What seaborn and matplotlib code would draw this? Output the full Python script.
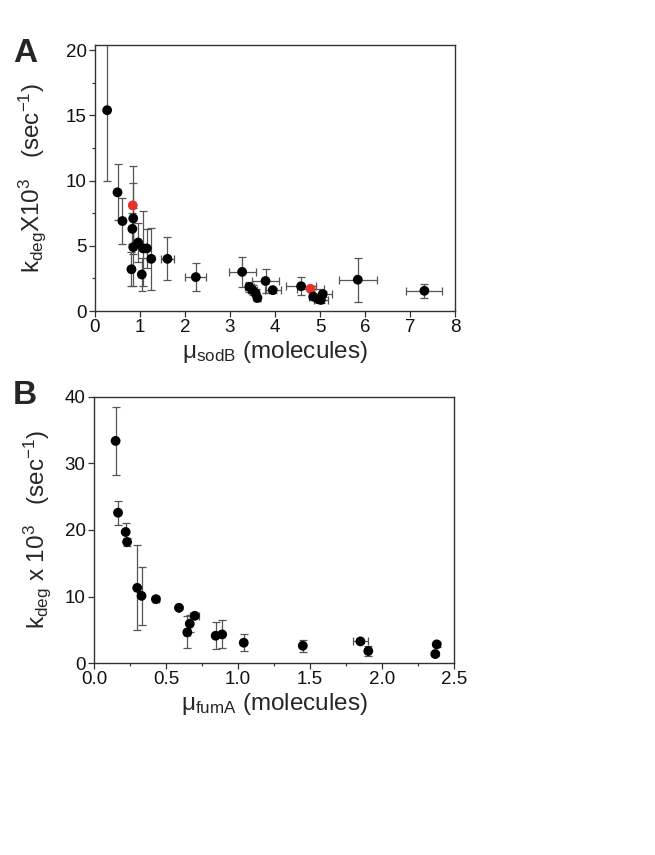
import numpy as np
import pandas as pd
import matplotlib
matplotlib.use("Agg")
import matplotlib.pyplot as plt
import seaborn as sns
from matplotlib.ticker import MultipleLocator

# panel A: sodB
sodB_x = [0.27, 0.50, 0.61, 0.84, 0.85, 0.83, 0.85, 0.96, 1.07, 1.15, 1.25, 0.81, 1.04,
          1.61, 2.24, 3.27, 3.43, 3.50, 3.57, 3.61, 3.79, 3.95, 4.58, 4.79, 4.85, 4.96,
          5.02, 5.06, 5.84, 7.32]
sodB_y = [15.4, 9.1, 6.9, 8.1, 7.1, 6.3, 4.9, 5.25, 4.8, 4.8, 4.0, 3.2, 2.8,
          4.0, 2.6, 3.0, 1.85, 1.6, 1.35, 1.0, 2.3, 1.6, 1.9, 1.7, 1.1, 0.9,
          0.85, 1.3, 2.4, 1.55]
sodB_yerr = [5.4, 2.15, 1.75, 3.0, 2.7, 1.2, 3.0, 1.5, 2.9, 1.5, 2.4, 1.3, 1.3,
             1.65, 1.05, 1.15, 0.4, 0.4, 0.3, 0.2, 0.9, 0.2, 0.7, 0.2, 0.2, 0.2,
             0.2, 0.2, 1.7, 0.55]
sodB_xerr = [0, 0, 0, 0, 0, 0, 0, 0, 0, 0, 0, 0, 0,
             0.15, 0.23, 0.3, 0.1, 0.1, 0.08, 0.05, 0.3, 0.18, 0.34, 0.3, 0.1, 0.1,
             0.15, 0.2, 0.42, 0.4]
sodB_red = [3, 23]

# panel B: fumA
fumA_x = [0.15, 0.167, 0.22, 0.23, 0.30, 0.33, 0.43, 0.59, 0.70, 0.665, 0.648,
          0.845, 0.89, 1.04, 1.45, 1.85, 1.905, 2.38, 2.37]
fumA_y = [33.4, 22.6, 19.7, 18.2, 11.3, 10.1, 9.6, 8.3, 7.1, 5.9, 4.6,
          4.1, 4.3, 3.05, 2.6, 3.25, 1.8, 2.8, 1.35]
fumA_yerr = [5.1, 1.8, 1.4, 0.6, 6.4, 4.4, 0.3, 0.2, 0.4, 1.3, 2.4,
             2.0, 2.1, 1.25, 0.9, 0.3, 0.7, 0.4, 0.3]
fumA_xerr = [0, 0, 0, 0, 0, 0, 0.02, 0, 0.03, 0, 0.02,
             0, 0, 0, 0, 0.05, 0, 0, 0]

sns.set_theme(style="ticks")
plt.rcParams['font.family'] = ['Liberation Sans', 'DejaVu Sans']
plt.rcParams['mathtext.default'] = 'regular'

dfA = pd.DataFrame({'x': sodB_x, 'y': sodB_y, 'yerr': sodB_yerr, 'xerr': sodB_xerr})
dfA['grp'] = ['red' if i in sodB_red else 'black' for i in range(len(dfA))]
dfB = pd.DataFrame({'x': fumA_x, 'y': fumA_y, 'yerr': fumA_yerr, 'xerr': fumA_xerr})
dfB['grp'] = 'black'

fig = plt.figure(figsize=(6.55, 8.55), dpi=100)
axA = fig.add_axes([95/655, 1 - 311/855, 360/655, 266/855])
axB = fig.add_axes([94/655, 1 - 663/855, 360/655, 266/855])

pal = {'black': 'black', 'red': '#e8302a'}

for ax, df in [(axA, dfA), (axB, dfB)]:
    ax.errorbar(df['x'], df['y'], yerr=df['yerr'], xerr=df['xerr'], fmt='none',
                ecolor='#555555', elinewidth=0.9, capsize=3, capthick=0.9, zorder=1)
    sns.scatterplot(data=df, x='x', y='y', hue='grp', palette=pal, s=50,
                    edgecolor='none', legend=False, ax=ax, zorder=3)
    for s in ax.spines.values():
        s.set_color('#333333')
        s.set_linewidth(1.0)
        s.set_visible(True)
    ax.tick_params(which='major', direction='out', length=4, width=0.9,
                   color='#333333', labelsize=13.5, labelcolor='#111111', pad=2)
    ax.tick_params(which='minor', direction='out', length=2.5, width=0.8, color='#333333')

axA.set_xlim(0, 8)
axA.set_ylim(0, 20.4)
axA.xaxis.set_major_locator(MultipleLocator(1))
axA.yaxis.set_major_locator(MultipleLocator(5))
axA.yaxis.set_minor_locator(MultipleLocator(2.5))
axA.set_xlabel('μ$_{sodB}$ (molecules)', fontsize=17.5, labelpad=2)
axA.set_ylabel('k$_{deg}$X10$^{3}$   (sec$^{-1}$)', fontsize=17.5)
axA.yaxis.set_label_coords(-0.13, 0.5)

axB.set_xlim(0, 2.5)
axB.set_ylim(0, 40)
axB.xaxis.set_major_locator(MultipleLocator(0.5))
axB.xaxis.set_minor_locator(MultipleLocator(0.25))
axB.yaxis.set_major_locator(MultipleLocator(10))
axB.set_xlabel('μ$_{fumA}$ (molecules)', fontsize=17.5, labelpad=2)
axB.set_ylabel('k$_{deg}$ x 10$^{3}$   (sec$^{-1}$)', fontsize=17.5)
axB.yaxis.set_label_coords(-0.115, 0.5)

fig.text(25/655, 1 - 54/855, 'A', fontsize=24, fontweight='bold', ha='center', va='center')
fig.text(25/655, 1 - 395/855, 'B', fontsize=24, fontweight='bold', ha='center', va='center')

fig.savefig('out.png', dpi=100)
